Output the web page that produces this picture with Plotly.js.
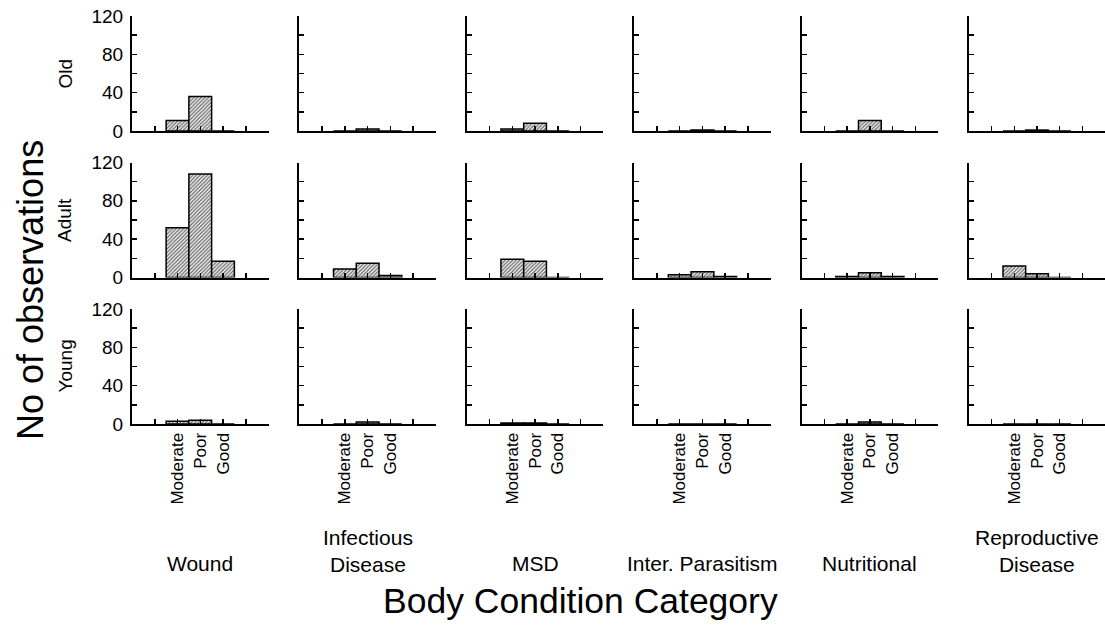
<!DOCTYPE html>
<html>
<head>
<meta charset="utf-8">
<script src="https://cdn.plot.ly/plotly-3.0.1.min.js"></script>
<style>
  html, body { margin: 0; padding: 0; background: #ffffff; }
  #chart { width: 1105px; height: 628px; }
</style>
</head>
<body>
<div id="chart"></div>
<script>
// ---- Data ----
const categories = ['Moderate', 'Poor', 'Good'];
const diseases = ['Wound', 'Infectious<br>Disease', 'MSD', 'Inter. Parasitism', 'Nutritional', 'Reproductive<br>Disease'];
const ageGroups = ['Old', 'Adult', 'Young'];
// counts per disease: [Moderate, Poor, Good]
const oldCounts   = [[11, 36, 0], [0, 2, 0], [2, 8, 0], [0, 1, 0], [0, 11, 0], [0, 1, 0]];
const adultCounts = [[52, 108, 17], [9, 15, 2], [19, 17, 0], [3, 6, 1], [1, 5, 1], [12, 4, 0]];
const youngCounts = [[3, 4, 0], [0, 2, 0], [1, 1, 0], [0, 0, 0], [0, 2, 0], [0, 0, 0]];
const yTickValues = [0, 40, 80, 120];
const yMinorTickValues = [20, 60, 100];

// ---- Layout geometry (pixels) ----
const W = 1105, H = 628;
const FONT = 'Liberation Sans, Arial, sans-serif';
const colStart = 132, colStep = 167.4, colWidth = 136.5;
const rowTop = 16, rowStep = 146.5, rowHeight = 115;

const countsByAge = [oldCounts, adultCounts, youngCounts];
const xPositions = categories.map((_, i) => i + 2);          // slots 2,3,4 on a 0..6 axis
const xTickVals = [1, 2, 3, 4, 5, 6];
const xTickText = xTickVals.map(v => {
  const idx = xPositions.indexOf(v);
  return idx >= 0 ? categories[idx] : '';
});

const traces = [];
const layout = {
  width: W, height: H,
  margin: {l: 0, r: 0, t: 0, b: 0},
  paper_bgcolor: '#ffffff',
  plot_bgcolor: '#ffffff',
  showlegend: false,
  bargap: 0,
  font: {family: FONT, color: '#000000', size: 17},
  annotations: []
};

const px2x = p => p / W;
const px2y = p => 1 - p / H;

ageGroups.forEach((age, r) => {
  diseases.forEach((dis, c) => {
    const k = r * diseases.length + c + 1;
    const xa = 'xaxis' + (k === 1 ? '' : k);
    const ya = 'yaxis' + (k === 1 ? '' : k);
    const xr = 'x' + (k === 1 ? '' : k);
    const yr = 'y' + (k === 1 ? '' : k);
    const x0 = colStart + c * colStep;
    const y0 = rowTop + r * rowStep;

    traces.push({
      type: 'bar',
      x: xPositions,
      y: countsByAge[r][c],
      width: 1,
      xaxis: xr, yaxis: yr,
      marker: {
        color: '#ffffff',
        line: {color: '#000000', width: 1.5},
        pattern: {shape: '/', fgcolor: '#666666', bgcolor: '#ffffff', size: 2.6, solidity: 0.5}
      },
      hoverinfo: 'skip'
    });

    layout[xa] = {
      domain: [px2x(x0), Math.min(1, px2x(x0 + colWidth))],
      anchor: yr,
      range: [0, 6],
      tickmode: 'array',
      tickvals: xTickVals,
      ticktext: xTickText,
      showticklabels: r === ageGroups.length - 1,
      tickangle: -90,
      ticks: 'inside', ticklen: 5, tickwidth: 1.5, tickcolor: '#000000',
      showline: true, linecolor: '#000000', linewidth: 2,
      showgrid: false, zeroline: false,
      tickfont: {family: FONT, size: 17, color: '#000000'},
      fixedrange: true
    };
    layout[ya] = {
      domain: [px2y(y0 + rowHeight), px2y(y0)],
      anchor: xr,
      range: [0, 120],
      tickmode: 'array',
      tickvals: yTickValues,
      showticklabels: c === 0,
      ticks: 'inside', ticklen: 5, tickwidth: 1.5, tickcolor: '#000000',
      minor: {tickmode: 'array', tickvals: yMinorTickValues, ticks: 'inside', ticklen: 5, tickwidth: 1.5, tickcolor: '#000000', showgrid: false},
      ticklabelstandoff: 3,
      showline: true, linecolor: '#000000', linewidth: 2,
      showgrid: false, zeroline: false,
      tickfont: {family: FONT, size: 19, color: '#000000'},
      fixedrange: true
    };

    if (c === 0) {
      layout.annotations.push({
        text: age, xref: 'paper', yref: 'paper',
        x: px2x(65), y: px2y(y0 + rowHeight / 2),
        xanchor: 'center', yanchor: 'middle', textangle: -90, showarrow: false,
        font: {family: FONT, size: 19, color: '#000000'}
      });
    }
    if (r === 0) {
      const twoLine = dis.indexOf('<br>') >= 0;
      layout.annotations.push({
        text: dis, xref: 'paper', yref: 'paper',
        x: px2x(x0 + colWidth / 2), y: px2y(twoLine ? 551 : 563),
        xanchor: 'center', yanchor: 'middle', showarrow: false,
        font: {family: FONT, size: 21, color: '#000000'}
      });
    }
  });
});

layout.annotations.push({
  text: 'Body Condition Category', xref: 'paper', yref: 'paper',
  x: px2x(580), y: px2y(601), xanchor: 'center', yanchor: 'middle', showarrow: false,
  font: {family: FONT, size: 35.5, color: '#000000'}
});
layout.annotations.push({
  text: 'No of observations', xref: 'paper', yref: 'paper',
  x: px2x(30), y: px2y(290), xanchor: 'center', yanchor: 'middle', textangle: -90, showarrow: false,
  font: {family: FONT, size: 36, color: '#000000'}
});

Plotly.newPlot('chart', traces, layout, {displayModeBar: false, staticPlot: true});
</script>
</body>
</html>
